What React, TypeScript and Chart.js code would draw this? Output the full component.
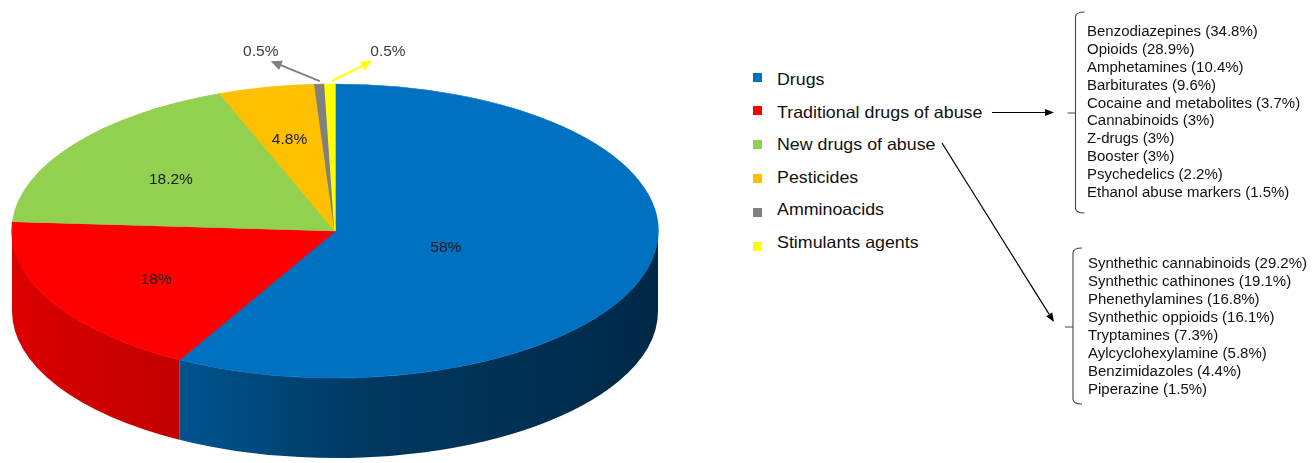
import React, { useEffect, useRef } from 'react';
import Chart from 'chart.js/auto';

const categories = ['Drugs', 'Traditional drugs of abuse', 'New drugs of abuse', 'Pesticides', 'Amminoacids', 'Stimulants agents'];
const values = [58, 18, 18.2, 4.8, 0.5, 0.5];
const valueLabels = ['58%', '18%', '18.2%', '4.8%', '0.5%', '0.5%'];
const colors = ['#0070C0', '#FF0000', '#92D050', '#FFC000', '#808080', '#FFFF00'];

const traditionalDrugs = [
  'Benzodiazepines (34.8%)',
  'Opioids (28.9%)',
  'Amphetamines (10.4%)',
  'Barbiturates (9.6%)',
  'Cocaine and metabolites (3.7%)',
  'Cannabinoids (3%)',
  'Z-drugs (3%)',
  'Booster (3%)',
  'Psychedelics (2.2%)',
  'Ethanol abuse markers (1.5%)',
];
const newDrugs = [
  'Synthethic cannabinoids (29.2%)',
  'Synthethic cathinones (19.1%)',
  'Phenethylamines (16.8%)',
  'Synthethic oppioids (16.1%)',
  'Tryptamines (7.3%)',
  'Aylcyclohexylamine (5.8%)',
  'Benzimidazoles (4.4%)',
  'Piperazine (1.5%)',
];

const FONT = '"Liberation Sans", Arial, Helvetica, sans-serif';
const GEO = { cx: 335, cy: 231, rx: 323, ry: 147, depth: 80 };

function shade(hex: string, f: number) {
  const n = parseInt(hex.slice(1), 16);
  const r = Math.round(((n >> 16) & 255) * f);
  const g = Math.round(((n >> 8) & 255) * f);
  const b = Math.round((n & 255) * f);
  return `rgb(${r},${g},${b})`;
}

function arrowHead(ctx: CanvasRenderingContext2D, x0: number, y0: number, x1: number, y1: number, len: number, wid: number) {
  const a = Math.atan2(y1 - y0, x1 - x0);
  ctx.beginPath();
  ctx.moveTo(x1, y1);
  ctx.lineTo(x1 - len * Math.cos(a) + (wid / 2) * Math.sin(a), y1 - len * Math.sin(a) - (wid / 2) * Math.cos(a));
  ctx.lineTo(x1 - len * Math.cos(a) - (wid / 2) * Math.sin(a), y1 - len * Math.sin(a) + (wid / 2) * Math.cos(a));
  ctx.closePath();
  ctx.fill();
}

const pie3d = {
  id: 'pie3d',
  beforeDatasetsDraw(chart: any) {
    const ctx: CanvasRenderingContext2D = chart.ctx;
    const meta = chart.getDatasetMeta(0);
    const { cx, cy, rx, ry, depth } = GEO;
    meta.data.forEach((arc: any, i: number) => {
      const s = arc.startAngle;
      const e = arc.endAngle;
      for (const base of [-2 * Math.PI, 0, 2 * Math.PI]) {
        const a0 = Math.max(s, base);
        const a1 = Math.min(e, base + Math.PI);
        if (a1 <= a0) continue;
        const g = ctx.createLinearGradient(cx - rx, 0, cx + rx, 0);
        g.addColorStop(0, shade(colors[i], 0.86));
        g.addColorStop(0.25, shade(colors[i], 0.76));
        g.addColorStop(0.55, shade(colors[i], 0.5));
        g.addColorStop(1, shade(colors[i], 0.37));
        ctx.beginPath();
        ctx.ellipse(cx, cy, rx, ry, 0, a0, a1);
        ctx.ellipse(cx, cy + depth, rx, ry, 0, a1, a0, true);
        ctx.closePath();
        ctx.fillStyle = g;
        ctx.fill();
      }
    });
    const a = meta.data[0];
    ctx.save();
    ctx.translate(cx, cy);
    ctx.scale(rx / a.outerRadius, ry / a.outerRadius);
    ctx.translate(-a.x, -a.y);
  },
  afterDatasetsDraw(chart: any) {
    chart.ctx.restore();
  },
  afterDraw(chart: any) {
    const ctx: CanvasRenderingContext2D = chart.ctx;
    const meta = chart.getDatasetMeta(0);
    const { cx, cy, rx, ry } = GEO;
    const last = values.length - 1;
    ctx.save();
    ctx.font = `15.5px ${FONT}`;
    ctx.textBaseline = 'middle';
    meta.data.forEach((arc: any, i: number) => {
      const s = arc.startAngle;
      const e = arc.endAngle;
      const th = e - s;
      const mid = (s + e) / 2;
      if (values[i] >= 1) {
        const k = (2 / 3) * Math.sin(th / 2) / (th / 2);
        const x = cx + k * rx * Math.cos(mid);
        const y = cy + k * ry * Math.sin(mid) + 4;
        ctx.fillStyle = '#1a1a1a';
        ctx.textAlign = 'center';
        ctx.fillText(valueLabels[i], x, y);
      } else {
        const dir = i === last ? 1 : -1;
        const px = cx + rx * Math.cos(mid) + (dir > 0 ? 2 : 0);
        const py = cy + ry * Math.sin(mid) - 3;
        const tx = px + (dir < 0 ? -49 : 40);
        const ty = py - 20;
        const a = Math.atan2(ty - py, tx - px);
        ctx.strokeStyle = colors[i];
        ctx.fillStyle = colors[i];
        ctx.lineWidth = 2;
        ctx.beginPath();
        ctx.moveTo(px, py);
        ctx.lineTo(tx - 8 * Math.cos(a), ty - 8 * Math.sin(a));
        ctx.stroke();
        arrowHead(ctx, px, py, tx, ty, 11, 10);
        ctx.fillStyle = '#3c3c3c';
        ctx.textAlign = 'center';
        ctx.fillText(valueLabels[i], dir < 0 ? tx - 10 : tx + 16, ty - 9);
      }
    });
    ctx.restore();
  },
};

function Arrow({ x1, y1, x2, y2 }: { x1: number; y1: number; x2: number; y2: number }) {
  const a = Math.atan2(y2 - y1, x2 - x1);
  const len = 9;
  const wid = 7;
  const bx = x2 - len * Math.cos(a);
  const by = y2 - len * Math.sin(a);
  const pts = [
    [x2, y2],
    [bx + (wid / 2) * Math.sin(a), by - (wid / 2) * Math.cos(a)],
    [bx - (wid / 2) * Math.sin(a), by + (wid / 2) * Math.cos(a)],
  ]
    .map((p) => p.join(','))
    .join(' ');
  return (
    <g>
      <line x1={x1} y1={y1} x2={bx} y2={by} stroke="#000" strokeWidth={1.2} />
      <polygon points={pts} fill="#000" />
    </g>
  );
}

function Bracket({ x, top, bottom, mid }: { x: number; top: number; bottom: number; mid: number }) {
  const d = `M ${x + 9} ${top} Q ${x} ${top} ${x} ${top + 5} L ${x} ${bottom - 5} Q ${x} ${bottom} ${x + 9} ${bottom} M ${x - 8} ${mid} L ${x} ${mid}`;
  return <path d={d} fill="none" stroke="#444" strokeWidth={1.1} />;
}

export default function App() {
  const ref = useRef<HTMLCanvasElement>(null);
  useEffect(() => {
    document.body.style.margin = '0';
    const chart = new Chart(ref.current as HTMLCanvasElement, {
      type: 'pie',
      data: {
        labels: categories,
        datasets: [
          {
            data: values,
            backgroundColor: colors,
            borderColor: colors,
            borderWidth: 1,
            clip: false as any,
          },
        ],
      },
      options: {
        animation: false,
        responsive: false,
        maintainAspectRatio: false,
        layout: { padding: 0 },
        plugins: { legend: { display: false }, tooltip: { enabled: false } },
        events: [],
      },
      plugins: [pie3d],
    });
    return () => chart.destroy();
  }, []);

  const textScale = { display: 'inline-block', transformOrigin: 'left center', whiteSpace: 'nowrap' as const };

  return (
    <div style={{ position: 'relative', width: 1315, height: 463, overflow: 'hidden', background: '#fff', fontFamily: FONT }}>
      <canvas ref={ref} width={700} height={463} style={{ position: 'absolute', left: 0, top: 0, width: 700, height: 463 }} />
      {categories.map((c, i) => (
        <React.Fragment key={c}>
          <div style={{ position: 'absolute', left: 753, top: 77 + i * 33.8 - 4.5, width: 9, height: 9, background: colors[i] }} />
          <div style={{ position: 'absolute', left: 777, top: 79 + i * 32.5 - 12, height: 24, lineHeight: '24px', fontSize: 16.5, color: '#111' }}>
            <span style={{ ...textScale, transform: 'scaleX(1.08)' }}>{c}</span>
          </div>
        </React.Fragment>
      ))}
      <svg width={1315} height={463} style={{ position: 'absolute', left: 0, top: 0 }}>
        <Arrow x1={992} y1={112.5} x2={1054} y2={112.5} />
        <Arrow x1={942} y1={143} x2={1054} y2={322} />
        <Bracket x={1075.5} top={12} bottom={213} mid={113} />
        <Bracket x={1073} top={248} bottom={404} mid={327} />
      </svg>
      <div style={{ position: 'absolute', left: 1087, top: 32 - 9, fontSize: 14, lineHeight: '17.9px', color: '#111' }}>
        {traditionalDrugs.map((t) => (
          <div key={t} style={{ height: 17.9 }}>
            <span style={{ ...textScale, transform: 'scaleX(1.07)' }}>{t}</span>
          </div>
        ))}
      </div>
      <div style={{ position: 'absolute', left: 1088, top: 263 - 9, fontSize: 14, lineHeight: '18px', color: '#111' }}>
        {newDrugs.map((t) => (
          <div key={t} style={{ height: 18 }}>
            <span style={{ ...textScale, transform: 'scaleX(1.07)' }}>{t}</span>
          </div>
        ))}
      </div>
    </div>
  );
}
